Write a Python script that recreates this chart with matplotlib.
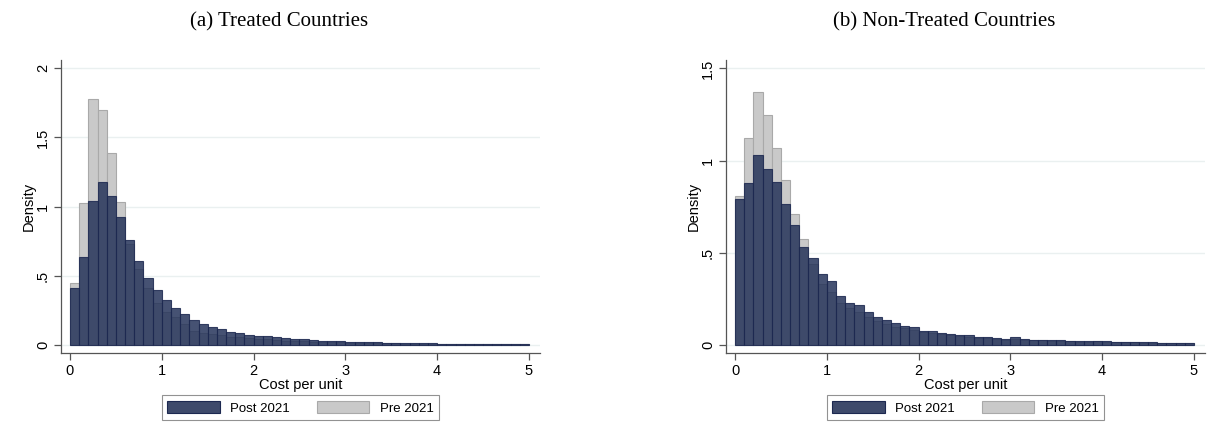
import numpy as np
import matplotlib
matplotlib.use('Agg')
import matplotlib.pyplot as plt
from matplotlib.patches import Patch

# bin edges: 0 to 5 in steps of 0.1
edges = np.round(np.arange(0, 5.01, 0.1), 2)

treated_post = [0.41, 0.637, 1.042, 1.175, 1.078, 0.924, 0.755, 0.608, 0.487, 0.398,
                0.328, 0.27, 0.222, 0.179, 0.154, 0.13, 0.118, 0.094, 0.087, 0.075,
                0.068, 0.062, 0.055, 0.05, 0.046, 0.04, 0.035, 0.032, 0.03, 0.025,
                0.023, 0.022, 0.018, 0.021, 0.016, 0.015, 0.014, 0.012, 0.012, 0.011,
                0.010, 0.010, 0.009, 0.009, 0.008, 0.008, 0.007, 0.007, 0.006, 0.006]
treated_pre = [0.446, 1.023, 1.776, 1.70, 1.39, 1.033, 0.73, 0.55, 0.415, 0.306,
               0.24, 0.20, 0.155, 0.10, 0.09, 0.08, 0.07, 0.06, 0.055, 0.05,
               0.045, 0.04, 0.036, 0.032, 0.03, 0.027, 0.024, 0.022, 0.02, 0.018,
               0.017, 0.015, 0.014, 0.016, 0.012, 0.011, 0.01, 0.009, 0.009, 0.008,
               0.008, 0.007, 0.007, 0.006, 0.006, 0.005, 0.005, 0.005, 0.004, 0.004]
nontreated_post = [0.794, 0.879, 1.029, 0.953, 0.883, 0.767, 0.650, 0.532, 0.470, 0.384,
                   0.349, 0.265, 0.230, 0.215, 0.178, 0.152, 0.136, 0.12, 0.105, 0.098,
                   0.076, 0.076, 0.065, 0.06, 0.057, 0.054, 0.045, 0.042, 0.04, 0.033,
                   0.041, 0.033, 0.03, 0.03, 0.026, 0.025, 0.023, 0.021, 0.02, 0.023,
                   0.02, 0.018, 0.017, 0.016, 0.015, 0.014, 0.013, 0.012, 0.012, 0.011]
nontreated_pre = [0.809, 1.12, 1.37, 1.245, 1.069, 0.894, 0.709, 0.577, 0.44, 0.33,
                  0.29, 0.23, 0.2, 0.18, 0.15, 0.13, 0.115, 0.10, 0.09, 0.08,
                  0.07, 0.065, 0.06, 0.055, 0.05, 0.045, 0.04, 0.037, 0.034, 0.03,
                  0.035, 0.03, 0.027, 0.025, 0.023, 0.022, 0.02, 0.019, 0.018, 0.02,
                  0.017, 0.016, 0.015, 0.014, 0.013, 0.012, 0.011, 0.011, 0.01, 0.01]

titles = ['(a) Treated Countries', '(b) Non-Treated Countries']
yticks = [[0, 0.5, 1, 1.5, 2], [0, 0.5, 1, 1.5]]
yticklabels = [['0', '.5', '1', '1.5', '2'], ['0', '.5', '1', '1.5']]
ylims = [(-0.058, 2.06), (-0.043, 1.546)]
xticks = [0, 1, 2, 3, 4, 5]

navy = '#26345a'
navy_edge = '#1c2850'
gray = '#c9c9c9'
gray_edge = '#a9a9a9'
axis_col = '#555555'

plt.rcParams['font.family'] = ['Liberation Sans', 'DejaVu Sans']

fig = plt.figure(figsize=(12.08, 4.26), dpi=100)
positions = [[0.0505, 0.1714, 0.3965, 0.688], [0.601, 0.1714, 0.3965, 0.688]]
data = [(treated_post, treated_pre), (nontreated_post, nontreated_pre)]

for k in range(2):
    ax = fig.add_axes(positions[k])
    post, pre = data[k]
    ax.bar(edges[:-1], pre, width=0.1, align='edge', color=gray,
           edgecolor=gray_edge, linewidth=0.8, zorder=2)
    ax.bar(edges[:-1], post, width=0.1, align='edge', color=navy, alpha=0.85,
           edgecolor=navy_edge, linewidth=0.8, zorder=3)

    ax.set_xlim(-0.098, 5.12)
    ax.set_ylim(*ylims[k])
    ax.set_xticks(xticks)
    ax.set_xticklabels([str(t) for t in xticks], fontsize=10.5)
    ax.set_yticks(yticks[k])
    ax.set_yticklabels(yticklabels[k], fontsize=10.5, rotation=90, va='center')
    ax.grid(axis='y', color='#eaf0f0', linewidth=1.0, zorder=0)
    ax.set_axisbelow(True)

    for s in ['top', 'right']:
        ax.spines[s].set_visible(False)
    for s in ['left', 'bottom']:
        ax.spines[s].set_color(axis_col)
        ax.spines[s].set_linewidth(0.9)
    ax.tick_params(direction='out', length=5, width=0.9, color=axis_col, pad=3)

    ax.set_xlabel('Cost per unit', fontsize=10.5, labelpad=0)
    ax.set_ylabel('Density', fontsize=10.5, labelpad=0)
    # the panel captions sit a little left of the plot centre
    ax.set_title(titles[k], fontsize=15, family=['Liberation Serif', 'DejaVu Serif'],
                 pad=24, x=0.455)

    handles = [Patch(facecolor='#3e4a6b', edgecolor=navy_edge, linewidth=0.8, label='Post 2021'),
               Patch(facecolor=gray, edgecolor=gray_edge, linewidth=0.8, label='Pre 2021')]
    leg = ax.legend(handles=handles, loc='upper center', bbox_to_anchor=(0.5, -0.145), ncol=2,
                    fontsize=9.5, frameon=True, fancybox=False, handlelength=4.0,
                    handleheight=1.1, columnspacing=2.0, borderpad=0.4, borderaxespad=0)
    leg.get_frame().set_edgecolor('#777777')
    leg.get_frame().set_linewidth(0.8)

fig.savefig('out.png', dpi=100)
